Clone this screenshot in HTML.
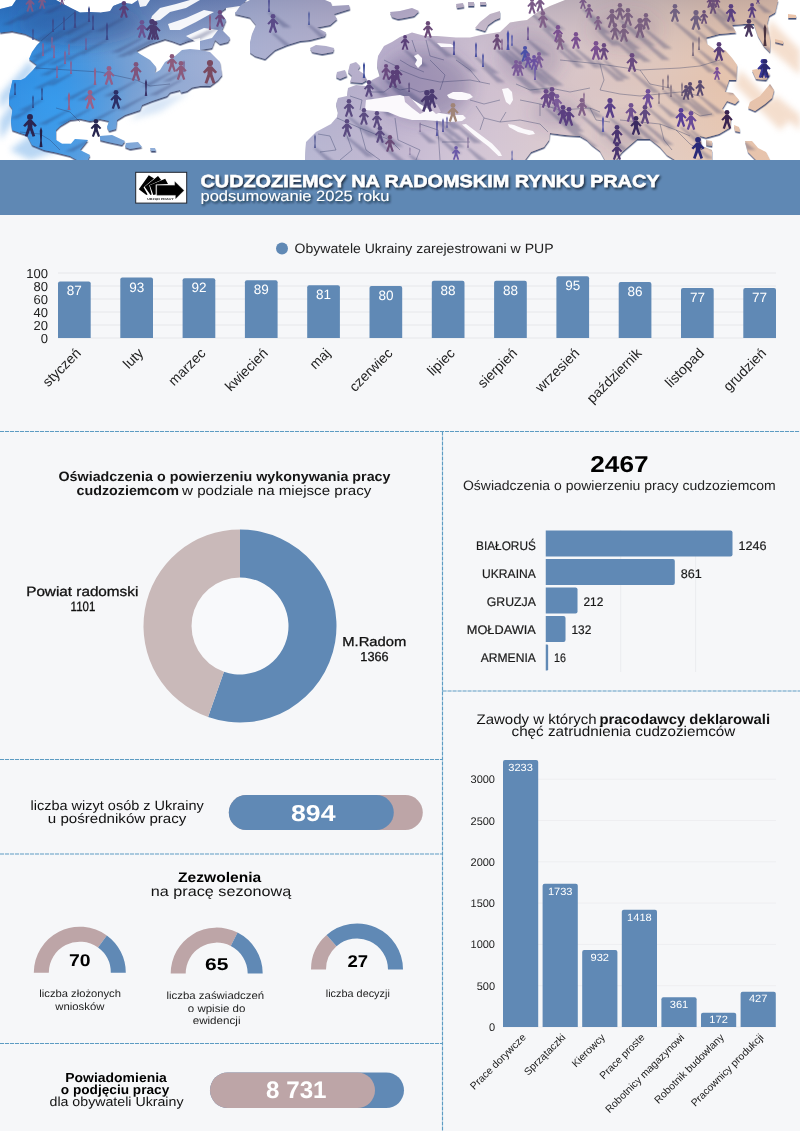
<!DOCTYPE html>
<html lang="pl"><head><meta charset="utf-8"><title>Cudzoziemcy na radomskim rynku pracy</title>
<style>
html,body{margin:0;padding:0;background:#f6f7f9;}
body{width:800px;height:1131px;overflow:hidden;font-family:"Liberation Sans",sans-serif;}
svg{display:block;font-family:"Liberation Sans",sans-serif;will-change:transform;}
text{text-rendering:geometricPrecision;}
</style></head><body>
<svg width="800" height="1131" viewBox="0 0 800 1131">
<defs>
<filter id="tsh" x="-5%" y="-30%" width="110%" height="180%"><feDropShadow dx="1.4" dy="1.8" stdDeviation="0.8" flood-color="#0e1626" flood-opacity="0.85"/></filter>
</defs>
<rect x="0" y="0" width="800" height="1131" fill="#f6f7f9"/>
<defs>
<linearGradient id="lg" gradientUnits="userSpaceOnUse" x1="0" y1="0" x2="800" y2="0">
<stop offset="0" stop-color="#2a88df"/><stop offset="0.075" stop-color="#3a8cda"/><stop offset="0.15" stop-color="#6a9bd4"/>
<stop offset="0.21" stop-color="#8fa9d3"/><stop offset="0.27" stop-color="#a0aed4"/><stop offset="0.33" stop-color="#abafd0"/>
<stop offset="0.42" stop-color="#b3aecb"/><stop offset="0.5" stop-color="#bdb0cc"/><stop offset="0.56" stop-color="#c9bbd0"/>
<stop offset="0.62" stop-color="#d0c0cf"/><stop offset="0.68" stop-color="#d6c4cb"/><stop offset="0.75" stop-color="#dac5c4"/>
<stop offset="0.82" stop-color="#dfc6bc"/><stop offset="0.9" stop-color="#e4c3ae"/><stop offset="1" stop-color="#eac4aa"/></linearGradient>
<radialGradient id="rg1" gradientUnits="userSpaceOnUse" cx="55" cy="105" r="75"><stop offset="0" stop-color="#34a0f4" stop-opacity="0.7"/><stop offset="1" stop-color="#34a0f4" stop-opacity="0"/></radialGradient>
<linearGradient id="tg" gradientUnits="userSpaceOnUse" x1="0" y1="0" x2="0" y2="55"><stop offset="0" stop-color="#2a4a90" stop-opacity="0.38"/><stop offset="1" stop-color="#2a4a90" stop-opacity="0"/></linearGradient>
<linearGradient id="vg" x1="0" y1="0" x2="0" y2="1"><stop offset="0" stop-color="#203060" stop-opacity="0.16"/><stop offset="0.5" stop-color="#ffffff" stop-opacity="0.0"/><stop offset="1" stop-color="#ffffff" stop-opacity="0.12"/></linearGradient>
<filter id="edge" x="-2%" y="-5%" width="104%" height="112%"><feDropShadow dx="0.3" dy="1.6" stdDeviation="0.25" flood-color="#28335e" flood-opacity="0.85"/></filter>
<filter id="bl3"><feGaussianBlur stdDeviation="3"/></filter>
<filter id="bl6" x="-30%" y="-30%" width="160%" height="160%"><feGaussianBlur stdDeviation="8"/></filter>
<filter id="bl1"><feGaussianBlur stdDeviation="1.2"/></filter>
<clipPath id="hc"><rect x="0" y="0" width="800" height="160"/></clipPath>
<symbol id="p" viewBox="0 0 12 19.4" overflow="visible"><circle cx="6" cy="2.5" r="2.5"/><path d="M4.4 5 H7.6 L11.8 9.6 L10.2 11 L8 8.8 V11.5 L10.4 18.6 L8.2 19.3 L6 13.4 L3.8 19.3 L1.6 18.6 L4 11.5 V8.8 L1.8 11 L0.2 9.6 Z"/></symbol>
<symbol id="s" viewBox="0 0 3 16" overflow="visible"><path d="M1.5 0 l1 3 -.4 8 .6 5 h-2.4 l.6 -5 -.4 -8z"/></symbol>
</defs>
<g clip-path="url(#hc)">
<rect x="0" y="0" width="800" height="160" fill="#ffffff"/>
<g filter="url(#bl3)" opacity="0.55">
<path d="M0 95 L30 60 L34 70 L0 110Z M0 120 L14 100 L20 112 L0 140Z M10 150 L40 128 L60 150 L30 160Z" fill="#7fb5ea"/>
<path d="M770 20 L800 50 L800 75 L765 45Z M740 70 L790 120 L780 130 L735 85Z M775 95 L800 115 L800 130 L770 105Z" fill="#ecc4a6"/>
<path d="M150 100 L190 92 L160 112 L130 120Z" fill="#b8d2f0"/>
</g>
<g filter="url(#edge)"><path d="M0 9 L12 6 L16 0 L56 0 L70 7.5 L73 9 L80 12.5 L90 12 L100 12.5 L110 11 L113 6 L122 2.5 L132 4 L138 0 L247 0 L240 6 L226 8 L220 12 L226 20 L222 30 L230 38 L228 42 L220 44 L215 40 L212 48 L200 50 L200 38 L188 41 L180 44 L172 41 L165 39 L150 44 L136 51 L140 54 L150 60 L156 67 L155 73 L160 70 L165 62 L175 56 L182 50 L190 49 L200 50 L210 52 L220 62 L222 75 L218 80 L210 86 L200 86 L192 87.5 L187 91 L181 92.5 L180 90 L170 92.5 L167 96 L152 101 L142 105 L140 110 L125 115 L117 120 L116 129 L109 131 L107 127 L109 121 L100 119 L90 121 L80 118.7 L70 120 L60 126 L56 130 L56 140 L62 143.7 L71 143.7 L75 139 L88 140 L80 150 L90 155 L88 160 L77 160 L70 156 L56 152.5 L44 150 L32 145 L27 135 L19 132.5 L12 130 L11 121 L12.5 109 L9 104 L9.5 94 L12.5 80 L21 80 L25 78 L33 70 L37 65 L29 59 L32 52 L37 45 L41 41 L36 38.7 L25 33.7 L12 31 L0 32.5Z M100 136 L112 135 L125 141 L122 145 L108 142 L100 140Z M126 143 L138 142 L142 147 L130 149 L125 147Z M150 148 l5 0 l1 3 l-5 0z M250 0 L325 0 L331 2.5 L332 6 L349 5 L350 9 L334 14 L337 19 L330 25 L317 27.5 L326 32.5 L325 36 L310 40 L300 41 L287 45 L275 50 L265 59 L255 56 L250 52.5 L250 42.5 L252 34 L256 25 L250 17.5 L235 14 L236 7.5Z M310 48 L316 45 L326 46 L334 48 L333 52 L322 54 L312 52Z M390 12 L400 11 L412 8 L419 11 L414 16 L404 18 L398 19 L392 17Z M456 4 l7 -1 l1 4 l-7 1z M468 2 l6 0 l0 4 l-6 0z M480 2 l6 0 l0 3 l-6 0z M500 11 L490 14 L480 22 L475 28 L485 31 L488 25 L495 20 L500 18Z M350 64 L356 62 L360 66 L358 70 L364 74 L367 80 L362 83 L350 82 L352 76 L348 72Z M337 72 L345 70 L347 76 L340 79 L336 77Z M305 160 L306 142 L316 132 L331 124 L337 117 L338 112 L336 104 L338 98 L347 96 L348 88 L356 85 L366 86 L372 80 L380 76 L377 66 L378 56 L384 46 L392 42 L400 37 L412 32.5 L425 36 L437 36 L456 37.5 L470 37.5 L481 35 L500 32 L510 22.5 L519 21 L527 20 L537 12.5 L550 6 L565 0 L778 0 L777 4 L775 12.5 L769 16 L767 24 L770 40 L770 52 L764 46 L758 36 L754 24 L744 24 L732 25 L736 32.5 L719 34 L706 37.5 L707 44 L715 50 L725 50 L732 58 L737 65 L736 80 L729 80 L725 92 L733 93 L739 100 L735 104 L727 101 L722 109 L731 117 L730 127.5 L719 134 L706 137.5 L700 136 L702 146 L712 150 L712 160 L675 160 L667 155 L660 147 L650 139 L637 139 L622 152 L616 160 L605 160 L600 151 L592 145 L587 140 L580 136 L565 135 L550 133 L549 140 L544 147 L531 152 L525 160Z" fill="url(#lg)"/></g>
<path d="M0 9 L12 6 L16 0 L56 0 L70 7.5 L73 9 L80 12.5 L90 12 L100 12.5 L110 11 L113 6 L122 2.5 L132 4 L138 0 L247 0 L240 6 L226 8 L220 12 L226 20 L222 30 L230 38 L228 42 L220 44 L215 40 L212 48 L200 50 L200 38 L188 41 L180 44 L172 41 L165 39 L150 44 L136 51 L140 54 L150 60 L156 67 L155 73 L160 70 L165 62 L175 56 L182 50 L190 49 L200 50 L210 52 L220 62 L222 75 L218 80 L210 86 L200 86 L192 87.5 L187 91 L181 92.5 L180 90 L170 92.5 L167 96 L152 101 L142 105 L140 110 L125 115 L117 120 L116 129 L109 131 L107 127 L109 121 L100 119 L90 121 L80 118.7 L70 120 L60 126 L56 130 L56 140 L62 143.7 L71 143.7 L75 139 L88 140 L80 150 L90 155 L88 160 L77 160 L70 156 L56 152.5 L44 150 L32 145 L27 135 L19 132.5 L12 130 L11 121 L12.5 109 L9 104 L9.5 94 L12.5 80 L21 80 L25 78 L33 70 L37 65 L29 59 L32 52 L37 45 L41 41 L36 38.7 L25 33.7 L12 31 L0 32.5Z M100 136 L112 135 L125 141 L122 145 L108 142 L100 140Z M126 143 L138 142 L142 147 L130 149 L125 147Z M150 148 l5 0 l1 3 l-5 0z M250 0 L325 0 L331 2.5 L332 6 L349 5 L350 9 L334 14 L337 19 L330 25 L317 27.5 L326 32.5 L325 36 L310 40 L300 41 L287 45 L275 50 L265 59 L255 56 L250 52.5 L250 42.5 L252 34 L256 25 L250 17.5 L235 14 L236 7.5Z M310 48 L316 45 L326 46 L334 48 L333 52 L322 54 L312 52Z M390 12 L400 11 L412 8 L419 11 L414 16 L404 18 L398 19 L392 17Z M456 4 l7 -1 l1 4 l-7 1z M468 2 l6 0 l0 4 l-6 0z M480 2 l6 0 l0 3 l-6 0z M500 11 L490 14 L480 22 L475 28 L485 31 L488 25 L495 20 L500 18Z M350 64 L356 62 L360 66 L358 70 L364 74 L367 80 L362 83 L350 82 L352 76 L348 72Z M337 72 L345 70 L347 76 L340 79 L336 77Z M305 160 L306 142 L316 132 L331 124 L337 117 L338 112 L336 104 L338 98 L347 96 L348 88 L356 85 L366 86 L372 80 L380 76 L377 66 L378 56 L384 46 L392 42 L400 37 L412 32.5 L425 36 L437 36 L456 37.5 L470 37.5 L481 35 L500 32 L510 22.5 L519 21 L527 20 L537 12.5 L550 6 L565 0 L778 0 L777 4 L775 12.5 L769 16 L767 24 L770 40 L770 52 L764 46 L758 36 L754 24 L744 24 L732 25 L736 32.5 L719 34 L706 37.5 L707 44 L715 50 L725 50 L732 58 L737 65 L736 80 L729 80 L725 92 L733 93 L739 100 L735 104 L727 101 L722 109 L731 117 L730 127.5 L719 134 L706 137.5 L700 136 L702 146 L712 150 L712 160 L675 160 L667 155 L660 147 L650 139 L637 139 L622 152 L616 160 L605 160 L600 151 L592 145 L587 140 L580 136 L565 135 L550 133 L549 140 L544 147 L531 152 L525 160Z" fill="url(#vg)"/>
<path d="M0 9 L12 6 L16 0 L56 0 L70 7.5 L73 9 L80 12.5 L90 12 L100 12.5 L110 11 L113 6 L122 2.5 L132 4 L138 0 L247 0 L240 6 L226 8 L220 12 L226 20 L222 30 L230 38 L228 42 L220 44 L215 40 L212 48 L200 50 L200 38 L188 41 L180 44 L172 41 L165 39 L150 44 L136 51 L140 54 L150 60 L156 67 L155 73 L160 70 L165 62 L175 56 L182 50 L190 49 L200 50 L210 52 L220 62 L222 75 L218 80 L210 86 L200 86 L192 87.5 L187 91 L181 92.5 L180 90 L170 92.5 L167 96 L152 101 L142 105 L140 110 L125 115 L117 120 L116 129 L109 131 L107 127 L109 121 L100 119 L90 121 L80 118.7 L70 120 L60 126 L56 130 L56 140 L62 143.7 L71 143.7 L75 139 L88 140 L80 150 L90 155 L88 160 L77 160 L70 156 L56 152.5 L44 150 L32 145 L27 135 L19 132.5 L12 130 L11 121 L12.5 109 L9 104 L9.5 94 L12.5 80 L21 80 L25 78 L33 70 L37 65 L29 59 L32 52 L37 45 L41 41 L36 38.7 L25 33.7 L12 31 L0 32.5Z" fill="url(#rg1)"/>
<path d="M0 9 L12 6 L16 0 L56 0 L70 7.5 L73 9 L80 12.5 L90 12 L100 12.5 L110 11 L113 6 L122 2.5 L132 4 L138 0 L247 0 L240 6 L226 8 L220 12 L226 20 L222 30 L230 38 L228 42 L220 44 L215 40 L212 48 L200 50 L200 38 L188 41 L180 44 L172 41 L165 39 L150 44 L136 51 L140 54 L150 60 L156 67 L155 73 L160 70 L165 62 L175 56 L182 50 L190 49 L200 50 L210 52 L220 62 L222 75 L218 80 L210 86 L200 86 L192 87.5 L187 91 L181 92.5 L180 90 L170 92.5 L167 96 L152 101 L142 105 L140 110 L125 115 L117 120 L116 129 L109 131 L107 127 L109 121 L100 119 L90 121 L80 118.7 L70 120 L60 126 L56 130 L56 140 L62 143.7 L71 143.7 L75 139 L88 140 L80 150 L90 155 L88 160 L77 160 L70 156 L56 152.5 L44 150 L32 145 L27 135 L19 132.5 L12 130 L11 121 L12.5 109 L9 104 L9.5 94 L12.5 80 L21 80 L25 78 L33 70 L37 65 L29 59 L32 52 L37 45 L41 41 L36 38.7 L25 33.7 L12 31 L0 32.5Z" fill="url(#tg)"/>
<path d="M100 12.5 L108 2 L112 0 L118 0 L113 6 L110 11Z M152 16 L160 8 L176 4 L190 0 L200 0 L186 8 L170 12 L160 20 L150 22Z M168 24 L186 18 L204 10 L214 12 L196 22 L180 30 L170 30Z M186 36 L204 28 L218 30 L212 38 L196 42Z M226 8 L240 6 L236 12 L226 14Z M138 0 L150 0 L146 6 L140 7Z" fill="#fff" opacity="0.92"/>
<g filter="url(#edge)"><path d="M770 84 L774 90 L772 98 L765 104 L755 111 L748 108 L750 102 L760 96Z M752 70 L762 68 L770 74 L766 80 L756 79Z M734 125 l5 2 l1 5 l-5 -1z M745 141 L752 141 L758 148 L766 152 L770 160 L756 160 L748 152Z M706 140 l6 1 l0 5 l-6 -1z M788 14 l8 1 l0 3 l-8 0z M775 39 l8 2 l0 3 l-8 -2z" fill="url(#lg)"/></g>
<path d="M404 96 L409 96 L418 106 L424 112 L420 114 L412 108 L405 102Z M430 104 L437 104 L441 112 L436 114 L432 110Z" fill="url(#lg)"/>
<path d="M41 41 L75 12 M36 68 L100 72 L136 80 L150 86 L170 84 M56 108 L70 112 L80 122 M20 132 L40 134 L50 140 L60 150 M345 130 L352 150 L340 160 M337 118 L360 128 L390 140 L400 150 M318 134 L330 136 L336 150 L320 152 M360 128 L366 150 L380 160 M395 118 L398 140 L420 150 L416 160 M420 124 L438 130 L440 160 M470 142 L442 142 M350 96 L362 100 L360 110 M366 86 L372 92 L384 92 L392 86 M392 86 L400 90 L410 88 L420 92 L430 90 M400 70 L420 78 L440 82 L470 80 L490 84 M430 60 L445 75 L440 90 M400 60 L410 66 L424 72 M384 60 L396 66 L400 78 M412 40 L416 52 M426 40 L430 56 L444 60 M456 60 L470 70 L480 82 M470 100 L484 104 L500 100 M476 106 L484 118 L500 122 L506 112 M484 118 L480 130 M500 122 L520 120 L540 124 L548 132 M520 100 L540 104 L560 110 L590 108 L600 112 M540 104 L540 116 M516 84 L530 90 L550 88 L570 92 L590 88 M560 110 L566 124 M590 108 L596 120 L610 122 M600 90 L620 94 L640 96 L660 94 L680 92 L700 96 M620 120 L640 122 L660 124 L676 130 L690 136 M560 60 L580 62 L600 64 L640 70 L680 68 L700 66 L720 60 M640 70 L650 84 L670 88 M660 124 L664 140 L672 150 M676 130 L690 144 L700 150 M690 110 L700 116 L712 114 M600 64 L604 80 L600 90" fill="none" stroke="#2b3560" stroke-width="0.6" opacity="0.6" stroke-linejoin="round"/>
<clipPath id="lc"><path d="M0 9 L12 6 L16 0 L56 0 L70 7.5 L73 9 L80 12.5 L90 12 L100 12.5 L110 11 L113 6 L122 2.5 L132 4 L138 0 L247 0 L240 6 L226 8 L220 12 L226 20 L222 30 L230 38 L228 42 L220 44 L215 40 L212 48 L200 50 L200 38 L188 41 L180 44 L172 41 L165 39 L150 44 L136 51 L140 54 L150 60 L156 67 L155 73 L160 70 L165 62 L175 56 L182 50 L190 49 L200 50 L210 52 L220 62 L222 75 L218 80 L210 86 L200 86 L192 87.5 L187 91 L181 92.5 L180 90 L170 92.5 L167 96 L152 101 L142 105 L140 110 L125 115 L117 120 L116 129 L109 131 L107 127 L109 121 L100 119 L90 121 L80 118.7 L70 120 L60 126 L56 130 L56 140 L62 143.7 L71 143.7 L75 139 L88 140 L80 150 L90 155 L88 160 L77 160 L70 156 L56 152.5 L44 150 L32 145 L27 135 L19 132.5 L12 130 L11 121 L12.5 109 L9 104 L9.5 94 L12.5 80 L21 80 L25 78 L33 70 L37 65 L29 59 L32 52 L37 45 L41 41 L36 38.7 L25 33.7 L12 31 L0 32.5Z M100 136 L112 135 L125 141 L122 145 L108 142 L100 140Z M126 143 L138 142 L142 147 L130 149 L125 147Z M150 148 l5 0 l1 3 l-5 0z M250 0 L325 0 L331 2.5 L332 6 L349 5 L350 9 L334 14 L337 19 L330 25 L317 27.5 L326 32.5 L325 36 L310 40 L300 41 L287 45 L275 50 L265 59 L255 56 L250 52.5 L250 42.5 L252 34 L256 25 L250 17.5 L235 14 L236 7.5Z M310 48 L316 45 L326 46 L334 48 L333 52 L322 54 L312 52Z M390 12 L400 11 L412 8 L419 11 L414 16 L404 18 L398 19 L392 17Z M456 4 l7 -1 l1 4 l-7 1z M468 2 l6 0 l0 4 l-6 0z M480 2 l6 0 l0 3 l-6 0z M500 11 L490 14 L480 22 L475 28 L485 31 L488 25 L495 20 L500 18Z M350 64 L356 62 L360 66 L358 70 L364 74 L367 80 L362 83 L350 82 L352 76 L348 72Z M337 72 L345 70 L347 76 L340 79 L336 77Z M305 160 L306 142 L316 132 L331 124 L337 117 L338 112 L336 104 L338 98 L347 96 L348 88 L356 85 L366 86 L372 80 L380 76 L377 66 L378 56 L384 46 L392 42 L400 37 L412 32.5 L425 36 L437 36 L456 37.5 L470 37.5 L481 35 L500 32 L510 22.5 L519 21 L527 20 L537 12.5 L550 6 L565 0 L778 0 L777 4 L775 12.5 L769 16 L767 24 L770 40 L770 52 L764 46 L758 36 L754 24 L744 24 L732 25 L736 32.5 L719 34 L706 37.5 L707 44 L715 50 L725 50 L732 58 L737 65 L736 80 L729 80 L725 92 L733 93 L739 100 L735 104 L727 101 L722 109 L731 117 L730 127.5 L719 134 L706 137.5 L700 136 L702 146 L712 150 L712 160 L675 160 L667 155 L660 147 L650 139 L637 139 L622 152 L616 160 L605 160 L600 151 L592 145 L587 140 L580 136 L565 135 L550 133 L549 140 L544 147 L531 152 L525 160Z M770 84 L774 90 L772 98 L765 104 L755 111 L748 108 L750 102 L760 96Z M752 70 L762 68 L770 74 L766 80 L756 79Z M734 125 l5 2 l1 5 l-5 -1z M745 141 L752 141 L758 148 L766 152 L770 160 L756 160 L748 152Z M706 140 l6 1 l0 5 l-6 -1z M788 14 l8 1 l0 3 l-8 0z M775 39 l8 2 l0 3 l-8 -2z"/></clipPath>
<g clip-path="url(#lc)"><g filter="url(#bl6)">
<ellipse cx="425" cy="85" rx="46" ry="36" fill="#4a3f78" opacity="0.30"/>
<ellipse cx="530" cy="58" rx="32" ry="26" fill="#4a3f78" opacity="0.20"/>
<ellipse cx="556" cy="113" rx="24" ry="15" fill="#4a3f78" opacity="0.18"/>
<ellipse cx="80" cy="24" rx="62" ry="22" fill="#1f3f80" opacity="0.26"/>
<ellipse cx="626" cy="135" rx="26" ry="16" fill="#4a3f78" opacity="0.15"/>
<ellipse cx="625" cy="30" rx="35" ry="20" fill="#5a4a70" opacity="0.14"/>
</g></g>
<g clip-path="url(#lc)"><g filter="url(#bl1)" opacity="0.30">
<path d="M28.5 12 L31.5 12 L10.0 24.8 L2.0 24.8Z" fill="#303868"/>
<path d="M40.5 9 L43.5 9 L25.0 20.2 L17.0 20.2Z" fill="#303868"/>
<path d="M60.5 5 L63.5 5 L51.0 13.0 L43.0 13.0Z" fill="#303868"/>
<path d="M122.5 18 L125.5 18 L102.5 31.6 L94.5 31.6Z" fill="#303868"/>
<path d="M140.5 38 L143.5 38 L119.0 52.4 L111.0 52.4Z" fill="#303868"/>
<path d="M150.5 40 L153.5 40 L124.5 56.8 L116.5 56.8Z" fill="#303868"/>
<path d="M153.5 40 L156.5 40 L130.5 55.2 L122.5 55.2Z" fill="#303868"/>
<path d="M170.5 72 L173.5 72 L149.0 86.4 L141.0 86.4Z" fill="#303868"/>
<path d="M179.5 80 L182.5 80 L156.5 95.2 L148.5 95.2Z" fill="#303868"/>
<path d="M134.5 81 L137.5 81 L111.5 96.2 L103.5 96.2Z" fill="#303868"/>
<path d="M107.5 85 L110.5 85 L84.5 100.2 L76.5 100.2Z" fill="#303868"/>
<path d="M93.5 85 L96.5 85 L72.0 99.4 L64.0 99.4Z" fill="#303868"/>
<path d="M144.5 96 L147.5 96 L124.5 109.6 L116.5 109.6Z" fill="#303868"/>
<path d="M114.5 109 L117.5 109 L91.5 124.2 L83.5 124.2Z" fill="#303868"/>
<path d="M88.5 109 L91.5 109 L65.5 124.2 L57.5 124.2Z" fill="#303868"/>
<path d="M67.5 110 L70.5 110 L46.0 124.4 L38.0 124.4Z" fill="#303868"/>
<path d="M94.5 137 L97.5 137 L73.0 151.4 L65.0 151.4Z" fill="#303868"/>
<path d="M28.5 137 L31.5 137 L-0.5 155.4 L-8.5 155.4Z" fill="#303868"/>
<path d="M39.5 147 L42.5 147 L15.0 163.0 L7.0 163.0Z" fill="#303868"/>
<path d="M51.5 32 L54.5 32 L36.0 43.2 L28.0 43.2Z" fill="#303868"/>
<path d="M62.5 30 L65.5 30 L47.0 41.2 L39.0 41.2Z" fill="#303868"/>
<path d="M73.5 28 L76.5 28 L52.0 42.4 L44.0 42.4Z" fill="#303868"/>
<path d="M87.5 22 L90.5 22 L69.0 34.8 L61.0 34.8Z" fill="#303868"/>
<path d="M91.5 30 L94.5 30 L73.0 42.8 L65.0 42.8Z" fill="#303868"/>
<path d="M31.5 40 L34.5 40 L19.0 49.6 L11.0 49.6Z" fill="#303868"/>
<path d="M41.5 56 L44.5 56 L26.0 67.2 L18.0 67.2Z" fill="#303868"/>
<path d="M52.5 58 L55.5 58 L37.0 69.2 L29.0 69.2Z" fill="#303868"/>
<path d="M63.5 64 L66.5 64 L48.0 75.2 L40.0 75.2Z" fill="#303868"/>
<path d="M69.5 74 L72.5 74 L54.0 85.2 L46.0 85.2Z" fill="#303868"/>
<path d="M55.5 78 L58.5 78 L41.5 88.4 L33.5 88.4Z" fill="#303868"/>
<path d="M84.5 50 L87.5 50 L70.5 60.4 L62.5 60.4Z" fill="#303868"/>
<path d="M105.5 40 L108.5 40 L84.0 54.4 L76.0 54.4Z" fill="#303868"/>
<path d="M13.5 95 L16.5 95 L-0.5 105.4 L-8.5 105.4Z" fill="#303868"/>
<path d="M31.5 108 L34.5 108 L17.5 118.4 L9.5 118.4Z" fill="#303868"/>
<path d="M40.5 100 L43.5 100 L26.5 110.4 L18.5 110.4Z" fill="#303868"/>
<path d="M67.5 55 L70.5 55 L55.0 64.6 L47.0 64.6Z" fill="#303868"/>
<path d="M50.5 48 L53.5 48 L38.0 57.6 L30.0 57.6Z" fill="#303868"/>
<path d="M182.5 72 L185.5 72 L170.0 81.6 L162.0 81.6Z" fill="#303868"/>
<path d="M208.5 30 L211.5 30 L190.0 42.8 L182.0 42.8Z" fill="#303868"/>
<path d="M218.5 27 L221.5 27 L198.5 40.6 L190.5 40.6Z" fill="#303868"/>
<path d="M208.5 84 L211.5 84 L178.0 103.2 L170.0 103.2Z" fill="#303868"/>
<path d="M271.5 33 L274.5 33 L301.7 53.9 L293.7 53.9Z" fill="#303868"/>
<path d="M267.5 12 L270.5 12 L291.2 27.4 L283.2 27.4Z" fill="#303868"/>
<path d="M307.5 25 L310.5 25 L331.2 40.4 L323.2 40.4Z" fill="#303868"/>
<path d="M362.5 78 L365.5 78 L388.8 95.6 L380.8 95.6Z" fill="#303868"/>
<path d="M367.5 97 L370.5 97 L395.1 115.7 L387.1 115.7Z" fill="#303868"/>
<path d="M347.5 117 L350.5 117 L376.4 136.8 L368.4 136.8Z" fill="#303868"/>
<path d="M362.5 125 L365.5 125 L390.1 143.7 L382.1 143.7Z" fill="#303868"/>
<path d="M375.5 128 L378.5 128 L403.1 146.7 L395.1 146.7Z" fill="#303868"/>
<path d="M345.5 137 L348.5 137 L374.4 156.8 L366.4 156.8Z" fill="#303868"/>
<path d="M378.5 143 L381.5 143 L406.1 161.7 L398.1 161.7Z" fill="#303868"/>
<path d="M388.5 152 L391.5 152 L416.1 170.7 L408.1 170.7Z" fill="#303868"/>
<path d="M391.5 88 L394.5 88 L420.4 107.8 L412.4 107.8Z" fill="#303868"/>
<path d="M395.5 84 L398.5 84 L425.7 104.9 L417.7 104.9Z" fill="#303868"/>
<path d="M384.5 80 L387.5 80 L410.8 97.6 L402.8 97.6Z" fill="#303868"/>
<path d="M313.5 148 L316.5 148 L337.2 163.4 L329.2 163.4Z" fill="#303868"/>
<path d="M403.5 50 L406.5 50 L428.5 66.5 L420.5 66.5Z" fill="#303868"/>
<path d="M426.5 38 L429.5 38 L454.1 56.7 L446.1 56.7Z" fill="#303868"/>
<path d="M452.5 55 L455.5 55 L477.5 71.5 L469.5 71.5Z" fill="#303868"/>
<path d="M474.5 57 L477.5 57 L499.5 73.5 L491.5 73.5Z" fill="#303868"/>
<path d="M481.5 67 L484.5 67 L505.2 82.4 L497.2 82.4Z" fill="#303868"/>
<path d="M495.5 50 L498.5 50 L521.8 67.6 L513.8 67.6Z" fill="#303868"/>
<path d="M407.5 92 L410.5 92 L426.0 103.0 L418.0 103.0Z" fill="#303868"/>
<path d="M425.5 112 L428.5 112 L459.6 136.2 L451.6 136.2Z" fill="#303868"/>
<path d="M430.5 108 L433.5 108 L460.7 128.9 L452.7 128.9Z" fill="#303868"/>
<path d="M451.5 122 L454.5 122 L481.7 142.9 L473.7 142.9Z" fill="#303868"/>
<path d="M435.5 136 L438.5 136 L461.8 153.6 L453.8 153.6Z" fill="#303868"/>
<path d="M441.5 132 L444.5 132 L465.2 147.4 L457.2 147.4Z" fill="#303868"/>
<path d="M445.5 128 L448.5 128 L466.6 141.2 L458.6 141.2Z" fill="#303868"/>
<path d="M454.5 160 L457.5 160 L478.2 175.4 L470.2 175.4Z" fill="#303868"/>
<path d="M418.5 132 L421.5 132 L437.0 143.0 L429.0 143.0Z" fill="#303868"/>
<path d="M466.5 148 L469.5 148 L487.6 161.2 L479.6 161.2Z" fill="#303868"/>
<path d="M408.5 155 L411.5 155 L424.4 163.8 L416.4 163.8Z" fill="#303868"/>
<path d="M510.5 160 L513.5 160 L529.0 171.0 L521.0 171.0Z" fill="#303868"/>
<path d="M530.5 14 L533.5 14 L556.8 31.6 L548.8 31.6Z" fill="#303868"/>
<path d="M538.5 12 L541.5 12 L564.8 29.6 L556.8 29.6Z" fill="#303868"/>
<path d="M541.5 28 L544.5 28 L569.1 46.7 L561.1 46.7Z" fill="#303868"/>
<path d="M506.5 50 L509.5 50 L538.0 72.0 L530.0 72.0Z" fill="#303868"/>
<path d="M510.5 46 L513.5 46 L531.6 59.2 L523.6 59.2Z" fill="#303868"/>
<path d="M526.5 40 L529.5 40 L550.2 55.4 L542.2 55.4Z" fill="#303868"/>
<path d="M500.5 50 L503.5 50 L521.6 63.2 L513.6 63.2Z" fill="#303868"/>
<path d="M556.5 42 L559.5 42 L584.1 60.7 L576.1 60.7Z" fill="#303868"/>
<path d="M558.5 50 L561.5 50 L584.8 67.6 L576.8 67.6Z" fill="#303868"/>
<path d="M574.5 49 L577.5 49 L602.1 67.7 L594.1 67.7Z" fill="#303868"/>
<path d="M594.5 60 L597.5 60 L624.7 80.9 L616.7 80.9Z" fill="#303868"/>
<path d="M581.5 9 L584.5 9 L603.9 23.3 L595.9 23.3Z" fill="#303868"/>
<path d="M587.5 18 L590.5 18 L611.2 33.4 L603.2 33.4Z" fill="#303868"/>
<path d="M596.5 30 L599.5 30 L620.2 45.4 L612.2 45.4Z" fill="#303868"/>
<path d="M523.5 62 L526.5 62 L549.8 79.6 L541.8 79.6Z" fill="#303868"/>
<path d="M526.5 68 L529.5 68 L551.5 84.5 L543.5 84.5Z" fill="#303868"/>
<path d="M532.5 70 L535.5 70 L557.5 86.5 L549.5 86.5Z" fill="#303868"/>
<path d="M537.5 68 L540.5 68 L563.8 85.6 L555.8 85.6Z" fill="#303868"/>
<path d="M514.5 76 L517.5 76 L540.8 93.6 L532.8 93.6Z" fill="#303868"/>
<path d="M518.5 76 L521.5 76 L543.5 92.5 L535.5 92.5Z" fill="#303868"/>
<path d="M533.5 80 L536.5 80 L557.2 95.4 L549.2 95.4Z" fill="#303868"/>
<path d="M544.5 108 L547.5 108 L574.7 128.9 L566.7 128.9Z" fill="#303868"/>
<path d="M550.5 106 L553.5 106 L580.7 126.9 L572.7 126.9Z" fill="#303868"/>
<path d="M555.5 112 L558.5 112 L584.4 131.8 L576.4 131.8Z" fill="#303868"/>
<path d="M561.5 124 L564.5 124 L591.7 144.9 L583.7 144.9Z" fill="#303868"/>
<path d="M567.5 126 L570.5 126 L597.7 146.9 L589.7 146.9Z" fill="#303868"/>
<path d="M580.5 116 L583.5 116 L609.4 135.8 L601.4 135.8Z" fill="#303868"/>
<path d="M582.5 104 L585.5 104 L603.6 117.2 L595.6 117.2Z" fill="#303868"/>
<path d="M610.5 28 L613.5 28 L640.7 48.9 L632.7 48.9Z" fill="#303868"/>
<path d="M618.5 20 L621.5 20 L646.1 38.7 L638.1 38.7Z" fill="#303868"/>
<path d="M626.5 26 L629.5 26 L655.4 45.8 L647.4 45.8Z" fill="#303868"/>
<path d="M613.5 40 L616.5 40 L641.1 58.7 L633.1 58.7Z" fill="#303868"/>
<path d="M622.5 42 L625.5 42 L651.4 61.8 L643.4 61.8Z" fill="#303868"/>
<path d="M638.5 38 L641.5 38 L670.0 60.0 L662.0 60.0Z" fill="#303868"/>
<path d="M644.5 30 L647.5 30 L672.1 48.7 L664.1 48.7Z" fill="#303868"/>
<path d="M602.5 60 L605.5 60 L630.1 78.7 L622.1 78.7Z" fill="#303868"/>
<path d="M630.5 72 L633.5 72 L660.7 92.9 L652.7 92.9Z" fill="#303868"/>
<path d="M673.5 22 L676.5 22 L702.4 41.8 L694.4 41.8Z" fill="#303868"/>
<path d="M694.5 30 L697.5 30 L726.0 52.0 L718.0 52.0Z" fill="#303868"/>
<path d="M691.5 56 L694.5 56 L716.5 72.5 L708.5 72.5Z" fill="#303868"/>
<path d="M697.5 50 L700.5 50 L721.2 65.4 L713.2 65.4Z" fill="#303868"/>
<path d="M661.5 90 L664.5 90 L682.6 103.2 L674.6 103.2Z" fill="#303868"/>
<path d="M669.5 97 L672.5 97 L691.9 111.3 L683.9 111.3Z" fill="#303868"/>
<path d="M680.5 96 L683.5 96 L704.2 111.4 L696.2 111.4Z" fill="#303868"/>
<path d="M708.5 8 L711.5 8 L729.6 21.2 L721.6 21.2Z" fill="#303868"/>
<path d="M715.5 8 L718.5 8 L736.6 21.2 L728.6 21.2Z" fill="#303868"/>
<path d="M702.5 24 L705.5 24 L726.2 39.4 L718.2 39.4Z" fill="#303868"/>
<path d="M711.5 14 L714.5 14 L736.5 30.5 L728.5 30.5Z" fill="#303868"/>
<path d="M729.5 22 L732.5 22 L758.4 41.8 L750.4 41.8Z" fill="#303868"/>
<path d="M750.5 18 L753.5 18 L775.5 34.5 L767.5 34.5Z" fill="#303868"/>
<path d="M756.5 4 L759.5 4 L772.4 12.8 L764.4 12.8Z" fill="#303868"/>
<path d="M747.5 37 L750.5 37 L776.4 56.8 L768.4 56.8Z" fill="#303868"/>
<path d="M763.5 46 L766.5 46 L797.6 70.2 L789.6 70.2Z" fill="#303868"/>
<path d="M761.5 78 L764.5 78 L791.7 98.9 L783.7 98.9Z" fill="#303868"/>
<path d="M763.5 78 L766.5 78 L793.7 98.9 L785.7 98.9Z" fill="#303868"/>
<path d="M717.5 61 L720.5 61 L747.7 81.9 L739.7 81.9Z" fill="#303868"/>
<path d="M715.5 80 L718.5 80 L737.9 94.3 L729.9 94.3Z" fill="#303868"/>
<path d="M608.5 118 L611.5 118 L640.0 140.0 L632.0 140.0Z" fill="#303868"/>
<path d="M629.5 122 L632.5 122 L659.7 142.9 L651.7 142.9Z" fill="#303868"/>
<path d="M643.5 124 L646.5 124 L673.7 144.9 L665.7 144.9Z" fill="#303868"/>
<path d="M646.5 108 L649.5 108 L676.7 128.9 L668.7 128.9Z" fill="#303868"/>
<path d="M634.5 135 L637.5 135 L664.7 155.9 L656.7 155.9Z" fill="#303868"/>
<path d="M601.5 132 L604.5 132 L627.8 149.6 L619.8 149.6Z" fill="#303868"/>
<path d="M615.5 144 L618.5 144 L645.7 164.9 L637.7 164.9Z" fill="#303868"/>
<path d="M615.5 160 L618.5 160 L644.4 179.8 L636.4 179.8Z" fill="#303868"/>
<path d="M679.5 127 L682.5 127 L709.7 147.9 L701.7 147.9Z" fill="#303868"/>
<path d="M689.5 130 L692.5 130 L719.7 150.9 L711.7 150.9Z" fill="#303868"/>
<path d="M696.5 159 L699.5 159 L730.6 183.2 L722.6 183.2Z" fill="#303868"/>
<path d="M725.5 129 L728.5 129 L755.7 149.9 L747.7 149.9Z" fill="#303868"/>
<path d="M698.5 150 L701.5 150 L714.4 158.8 L706.4 158.8Z" fill="#303868"/>
<path d="M666.5 88 L669.5 88 L690.2 103.4 L682.2 103.4Z" fill="#303868"/>
<path d="M657.5 104 L660.5 104 L678.6 117.2 L670.6 117.2Z" fill="#303868"/>
<path d="M688.5 98 L691.5 98 L714.8 115.6 L706.8 115.6Z" fill="#303868"/>
<path d="M684.5 100 L687.5 100 L709.5 116.5 L701.5 116.5Z" fill="#303868"/>
<path d="M698.5 96 L701.5 96 L724.8 113.6 L716.8 113.6Z" fill="#303868"/>
</g></g>
<path d="M400 95 L410 98 L420 104 L430 110 L440 113 L452 115 L463 115 L466 118 L462 121 L450 122 L437 121 L425 120 L412 120 L400 117 L388 112 L375 111 L365 110 L366 100 L380 98 L392 96Z M447 95 L453 92 L462 92 L470 94 L473 97 L467 100 L457 100 L449 98Z M502 89 L508 88 L512 92 L513 100 L510 105 L506 102 L504 96Z M462 124.5 L466 124 L480 134.5 L492 143.5 L500 152 L502 156 L498.5 156 L488.5 146.5 L475 136Z M508 124 L514 125 L524 129 L533 131 L535 134 L529 135 L518 132 L509 127Z M414 56 L418 54 L422 58 L422 64 L418 68 L415 64 L417 60Z M437 43 l14 1 l4 3 l-14 0z" fill="#fbf9fc"/>
<path d="M404 96 L409 96 L418 106 L424 112 L420 114 L412 108 L405 102Z M430 104 L437 104 L441 112 L436 114 L432 110Z" fill="url(#lg)"/>
<use href="#p" x="755.5" y="-4.0" width="4.9" height="8" fill="#5a4080"/>
<use href="#p" x="58.9" y="-5.0" width="6.2" height="10" fill="#7a5a88"/>
<use href="#p" x="706.3" y="-4.0" width="7.4" height="12" fill="#6a4a78"/>
<use href="#p" x="713.3" y="-4.0" width="7.4" height="12" fill="#6a4a78"/>
<use href="#p" x="37.7" y="-5.0" width="8.7" height="14" fill="#7a5a88"/>
<use href="#p" x="579.0" y="-4.0" width="8.0" height="13" fill="#7a5a88"/>
<use href="#p" x="25.1" y="-4.0" width="9.9" height="16" fill="#7a5a88"/>
<use href="#s" x="267.7" y="-2.0" width="2.6" height="14" fill="#4a4a90"/>
<use href="#p" x="535.1" y="-4.0" width="9.9" height="16" fill="#7a5a88"/>
<use href="#p" x="527.1" y="-2.0" width="9.9" height="16" fill="#7a5a88"/>
<use href="#p" x="708.4" y="-1.0" width="9.3" height="15" fill="#6a5078"/>
<use href="#p" x="118.7" y="1.0" width="10.5" height="17" fill="#5a3f78"/>
<use href="#p" x="584.7" y="4.0" width="8.7" height="14" fill="#7a5a88"/>
<use href="#p" x="747.4" y="3.0" width="9.3" height="15" fill="#5a4080"/>
<use href="#p" x="614.7" y="3.0" width="10.5" height="17" fill="#7a6080"/>
<use href="#s" x="87.5" y="6.0" width="3.0" height="16" fill="#3c4a8a"/>
<use href="#p" x="669.4" y="4.0" width="11.1" height="18" fill="#706080"/>
<use href="#p" x="725.4" y="4.0" width="11.1" height="18" fill="#5a4080"/>
<use href="#p" x="699.7" y="10.0" width="8.7" height="14" fill="#6a5078"/>
<use href="#s" x="307.7" y="11.0" width="2.6" height="14" fill="#5560a0"/>
<use href="#p" x="622.4" y="8.0" width="11.1" height="18" fill="#7a6080"/>
<use href="#p" x="214.7" y="10.0" width="10.5" height="17" fill="#6a4a80"/>
<use href="#s" x="73.3" y="10.0" width="3.4" height="18" fill="#3c4a8a"/>
<use href="#p" x="537.7" y="11.0" width="10.5" height="17" fill="#806088"/>
<use href="#p" x="606.1" y="9.0" width="11.8" height="19" fill="#7a6080"/>
<use href="#s" x="62.7" y="16.0" width="2.6" height="14" fill="#3c4a8a"/>
<use href="#s" x="91.5" y="14.0" width="3.0" height="16" fill="#3c4a8a"/>
<use href="#s" x="208.5" y="14.0" width="3.0" height="16" fill="#8a5a80"/>
<use href="#p" x="593.7" y="16.0" width="8.7" height="14" fill="#806088"/>
<use href="#p" x="640.7" y="13.0" width="10.5" height="17" fill="#7a6080"/>
<use href="#p" x="689.8" y="10.0" width="12.4" height="20" fill="#706080"/>
<use href="#s" x="51.7" y="18.0" width="2.6" height="14" fill="#3c4a8a"/>
<use href="#p" x="267.1" y="14.0" width="11.8" height="19" fill="#5a4a88"/>
<use href="#p" x="743.4" y="19.0" width="11.1" height="18" fill="#4a3860"/>
<use href="#p" x="136.4" y="20.0" width="11.1" height="18" fill="#6a5290"/>
<use href="#p" x="422.7" y="21.0" width="10.5" height="17" fill="#6a4a78"/>
<use href="#p" x="633.8" y="18.0" width="12.4" height="20" fill="#7a6080"/>
<use href="#p" x="145.5" y="19.0" width="13.0" height="21" fill="#4a3a70"/>
<use href="#p" x="149.1" y="21.0" width="11.8" height="19" fill="#4a3a70"/>
<use href="#s" x="31.9" y="28.0" width="2.2" height="12" fill="#3c4a8a"/>
<use href="#s" x="105.3" y="22.0" width="3.4" height="18" fill="#3c4a8a"/>
<use href="#s" x="526.7" y="26.0" width="2.6" height="14" fill="#6a5090"/>
<use href="#p" x="609.7" y="23.0" width="10.5" height="17" fill="#7a6080"/>
<use href="#p" x="552.7" y="25.0" width="10.5" height="17" fill="#7a5090"/>
<use href="#p" x="618.4" y="24.0" width="11.1" height="18" fill="#7a6080"/>
<use href="#s" x="510.9" y="34.0" width="2.2" height="12" fill="#4a50a8"/>
<use href="#s" x="762.9" y="24.0" width="4.1" height="22" fill="#4a3440"/>
<use href="#s" x="50.9" y="36.0" width="2.2" height="12" fill="#8a5f92"/>
<use href="#p" x="570.7" y="32.0" width="10.5" height="17" fill="#7a5090"/>
<use href="#s" x="84.8" y="37.0" width="2.4" height="13" fill="#6a5a98"/>
<use href="#p" x="400.4" y="35.0" width="9.3" height="15" fill="#5a3f78"/>
<use href="#p" x="492.1" y="34.0" width="9.9" height="16" fill="#6a4a78"/>
<use href="#s" x="506.1" y="30.0" width="3.8" height="20" fill="#4a50a8"/>
<use href="#s" x="500.9" y="38.0" width="2.2" height="12" fill="#7a5a88"/>
<use href="#p" x="555.1" y="34.0" width="9.9" height="16" fill="#806088"/>
<use href="#s" x="697.7" y="36.0" width="2.6" height="14" fill="#807080"/>
<use href="#s" x="67.9" y="43.0" width="2.2" height="12" fill="#8a5f92"/>
<use href="#s" x="452.6" y="40.0" width="2.8" height="15" fill="#4a4a98"/>
<use href="#s" x="41.7" y="42.0" width="2.6" height="14" fill="#8a5f92"/>
<use href="#s" x="691.6" y="41.0" width="2.8" height="15" fill="#807080"/>
<use href="#s" x="474.6" y="42.0" width="2.8" height="15" fill="#4a50a0"/>
<use href="#s" x="52.7" y="44.0" width="2.6" height="14" fill="#8a5f92"/>
<use href="#p" x="590.1" y="41.0" width="11.8" height="19" fill="#7a5090"/>
<use href="#p" x="598.7" y="43.0" width="10.5" height="17" fill="#6a4a80"/>
<use href="#p" x="713.1" y="42.0" width="11.8" height="19" fill="#5a3f78"/>
<use href="#p" x="520.1" y="46.0" width="9.9" height="16" fill="#4a50a8"/>
<use href="#s" x="63.7" y="50.0" width="2.6" height="14" fill="#8a5f92"/>
<use href="#s" x="481.7" y="53.0" width="2.6" height="14" fill="#4a50a0"/>
<use href="#p" x="523.4" y="53.0" width="9.3" height="15" fill="#6a50a0"/>
<use href="#p" x="534.1" y="52.0" width="9.9" height="16" fill="#7a5a98"/>
<use href="#p" x="529.4" y="55.0" width="9.3" height="15" fill="#6a50a0"/>
<use href="#p" x="166.4" y="54.0" width="11.1" height="18" fill="#8c5a7c"/>
<use href="#s" x="182.9" y="60.0" width="2.2" height="12" fill="#7a5a88"/>
<use href="#p" x="626.1" y="53.0" width="11.8" height="19" fill="#6a4a80"/>
<use href="#s" x="69.7" y="60.0" width="2.6" height="14" fill="#8a5f92"/>
<use href="#p" x="511.1" y="60.0" width="9.9" height="16" fill="#7a5a98"/>
<use href="#p" x="515.4" y="61.0" width="9.3" height="15" fill="#7a5a98"/>
<use href="#s" x="55.8" y="65.0" width="2.4" height="13" fill="#8a5f92"/>
<use href="#s" x="362.5" y="62.0" width="3.0" height="16" fill="#3a4a98"/>
<use href="#p" x="757.1" y="59.0" width="11.8" height="19" fill="#3a3898"/>
<use href="#p" x="759.1" y="59.0" width="11.8" height="19" fill="#2a2870"/>
<use href="#p" x="175.1" y="61.0" width="11.8" height="19" fill="#8c5a7c"/>
<use href="#p" x="381.1" y="64.0" width="9.9" height="16" fill="#6a4a80"/>
<use href="#s" x="533.7" y="66.0" width="2.6" height="14" fill="#6a58a8"/>
<use href="#p" x="713.0" y="67.0" width="8.0" height="13" fill="#7a5098"/>
<use href="#p" x="130.1" y="62.0" width="11.8" height="19" fill="#80547c"/>
<use href="#p" x="202.6" y="60.0" width="14.8" height="24" fill="#7a4a60"/>
<use href="#p" x="391.1" y="65.0" width="11.8" height="19" fill="#5a3f78"/>
<use href="#p" x="103.1" y="66.0" width="11.8" height="19" fill="#93608a"/>
<use href="#s" x="93.3" y="67.0" width="3.4" height="18" fill="#93608a"/>
<use href="#p" x="387.4" y="70.0" width="11.1" height="18" fill="#5a3f78"/>
<use href="#s" x="666.7" y="74.0" width="2.6" height="14" fill="#807080"/>
<use href="#s" x="661.9" y="78.0" width="2.2" height="12" fill="#807080"/>
<use href="#s" x="408.1" y="82.0" width="1.9" height="10" fill="#4a3a70"/>
<use href="#s" x="13.8" y="82.0" width="2.4" height="13" fill="#2f4a8a"/>
<use href="#s" x="144.4" y="79.0" width="3.2" height="17" fill="#3a3468"/>
<use href="#s" x="680.7" y="82.0" width="2.6" height="14" fill="#807080"/>
<use href="#p" x="695.1" y="80.0" width="9.9" height="16" fill="#5a4a70"/>
<use href="#p" x="363.7" y="80.0" width="10.5" height="17" fill="#5a4a80"/>
<use href="#s" x="669.8" y="84.0" width="2.4" height="13" fill="#807080"/>
<use href="#p" x="685.1" y="82.0" width="9.9" height="16" fill="#5a4a70"/>
<use href="#s" x="40.8" y="87.0" width="2.4" height="13" fill="#2f4a8a"/>
<use href="#p" x="681.4" y="85.0" width="9.3" height="15" fill="#5a4a70"/>
<use href="#s" x="582.9" y="92.0" width="2.2" height="12" fill="#806088"/>
<use href="#s" x="657.9" y="92.0" width="2.2" height="12" fill="#807080"/>
<use href="#p" x="546.1" y="87.0" width="11.8" height="19" fill="#6a4a88"/>
<use href="#s" x="31.8" y="95.0" width="2.4" height="13" fill="#2f4a8a"/>
<use href="#p" x="426.1" y="89.0" width="11.8" height="19" fill="#4a3a70"/>
<use href="#p" x="540.1" y="89.0" width="11.8" height="19" fill="#6a4a88"/>
<use href="#p" x="642.1" y="89.0" width="11.8" height="19" fill="#705098"/>
<use href="#p" x="110.1" y="90.0" width="11.8" height="19" fill="#2c2f66"/>
<use href="#p" x="84.1" y="90.0" width="11.8" height="19" fill="#9a6088"/>
<use href="#s" x="67.3" y="92.0" width="3.4" height="18" fill="#93608a"/>
<use href="#p" x="420.2" y="90.0" width="13.6" height="22" fill="#4a3a70"/>
<use href="#p" x="551.4" y="94.0" width="11.1" height="18" fill="#7a5a98"/>
<use href="#p" x="576.4" y="98.0" width="11.1" height="18" fill="#806088"/>
<use href="#p" x="343.4" y="99.0" width="11.1" height="18" fill="#5a4a80"/>
<use href="#p" x="603.8" y="98.0" width="12.4" height="20" fill="#5a3f88"/>
<use href="#p" x="447.1" y="103.0" width="11.8" height="19" fill="#a08478"/>
<use href="#p" x="625.1" y="103.0" width="11.8" height="19" fill="#705090"/>
<use href="#p" x="557.1" y="105.0" width="11.8" height="19" fill="#5a3f80"/>
<use href="#p" x="639.1" y="105.0" width="11.8" height="19" fill="#604880"/>
<use href="#p" x="358.7" y="108.0" width="10.5" height="17" fill="#5a4a80"/>
<use href="#p" x="563.1" y="107.0" width="11.8" height="19" fill="#5a3f80"/>
<use href="#p" x="675.1" y="108.0" width="11.8" height="19" fill="#5a3f98"/>
<use href="#p" x="371.7" y="111.0" width="10.5" height="17" fill="#5a4a80"/>
<use href="#s" x="445.9" y="116.0" width="2.2" height="12" fill="#5a58a0"/>
<use href="#p" x="721.1" y="110.0" width="11.8" height="19" fill="#3a2450"/>
<use href="#p" x="685.1" y="111.0" width="11.8" height="19" fill="#6a4a98"/>
<use href="#s" x="441.7" y="118.0" width="2.6" height="14" fill="#5a58a0"/>
<use href="#s" x="419.1" y="122.0" width="1.9" height="10" fill="#807098"/>
<use href="#s" x="601.5" y="116.0" width="3.0" height="16" fill="#5a58a8"/>
<use href="#p" x="630.1" y="116.0" width="11.8" height="19" fill="#3a2a60"/>
<use href="#s" x="435.5" y="120.0" width="3.0" height="16" fill="#5a58a0"/>
<use href="#p" x="90.4" y="119.0" width="11.1" height="18" fill="#27254f"/>
<use href="#p" x="22.9" y="114.0" width="14.2" height="23" fill="#2a2550"/>
<use href="#p" x="341.4" y="119.0" width="11.1" height="18" fill="#5a4a80"/>
<use href="#p" x="374.7" y="126.0" width="10.5" height="17" fill="#5a4a80"/>
<use href="#p" x="611.1" y="125.0" width="11.8" height="19" fill="#4a3470"/>
<use href="#s" x="39.1" y="127.0" width="3.8" height="20" fill="#231f48"/>
<use href="#s" x="313.7" y="134.0" width="2.6" height="14" fill="#5a6098"/>
<use href="#s" x="466.9" y="136.0" width="2.2" height="12" fill="#807098"/>
<use href="#p" x="697.5" y="142.0" width="4.9" height="8" fill="#3a2450"/>
<use href="#p" x="384.7" y="135.0" width="10.5" height="17" fill="#6a4a78"/>
<use href="#s" x="409.2" y="147.0" width="1.5" height="8" fill="#807098"/>
<use href="#p" x="691.2" y="137.0" width="13.6" height="22" fill="#2a2a78"/>
<use href="#p" x="451.7" y="146.0" width="8.7" height="14" fill="#6a58a8"/>
<use href="#s" x="511.1" y="150.0" width="1.9" height="10" fill="#5a60a8"/>
<use href="#p" x="611.4" y="142.0" width="11.1" height="18" fill="#4a3470"/>
</g>
<rect x="0" y="160" width="800" height="55" fill="#5f88b4"/>
<g>
<rect x="135.7" y="172.3" width="51" height="30.8" fill="#ffffff" stroke="#20242c" stroke-width="1"/>
<path d="M138.8 189.2 L148.8 175.2 L154 178.4 L143.6 187.2 L147.6 194.4 L146.4 194.9Z" fill="#000"/>
<path d="M144.6 186.8 L158 176 L161.2 180 L149.3 185.2 L151.7 194.4 L150.5 194.9Z" fill="#000"/>
<path d="M149.8 185.3 L165.2 178.8 L168 184.1 L155.7 184.6 L155.7 194.5 L153.3 194.9Z" fill="#000"/>
<path d="M156.8 185.3 H174.8 V181.6 L184 190.4 L175.6 198.8 V195.2 H156.8Z" fill="#000" stroke="#666" stroke-width="0.3"/>
<text x="147.2" y="199.7" font-size="2.9" font-weight="700" textLength="26.4" lengthAdjust="spacingAndGlyphs" fill="#111">URZĄD PRACY</text>
</g>

<text x="200.5" y="186.5" font-size="17.5" font-weight="700" textLength="459.0" lengthAdjust="spacingAndGlyphs" fill="#fff" filter="url(#tsh)" stroke="#fff" stroke-width="0.45">CUDZOZIEMCY NA RADOMSKIM RYNKU PRACY</text>
<text x="200.5" y="200.6" font-size="15" textLength="189.0" lengthAdjust="spacingAndGlyphs" fill="#fff" filter="url(#tsh)">podsumowanie 2025 roku</text>
<circle cx="282" cy="248.5" r="6" fill="#6089b5"/>
<text x="294.5" y="253.0" font-size="13.5" textLength="259.0" lengthAdjust="spacingAndGlyphs" fill="#222">Obywatele Ukrainy zarejestrowani w PUP</text>
<line x1="58" x2="776" y1="338.00" y2="338.00" stroke="#e6e7ea" stroke-width="1"/>
<text x="48.0" y="342.6" font-size="13" text-anchor="end" fill="#222">0</text>
<line x1="58" x2="776" y1="325.00" y2="325.00" stroke="#e6e7ea" stroke-width="1"/>
<text x="48.0" y="329.6" font-size="13" text-anchor="end" fill="#222">20</text>
<line x1="58" x2="776" y1="312.00" y2="312.00" stroke="#e6e7ea" stroke-width="1"/>
<text x="48.0" y="316.6" font-size="13" text-anchor="end" fill="#222">40</text>
<line x1="58" x2="776" y1="299.00" y2="299.00" stroke="#e6e7ea" stroke-width="1"/>
<text x="48.0" y="303.6" font-size="13" text-anchor="end" fill="#222">60</text>
<line x1="58" x2="776" y1="286.00" y2="286.00" stroke="#e6e7ea" stroke-width="1"/>
<text x="48.0" y="290.6" font-size="13" text-anchor="end" fill="#222">80</text>
<line x1="58" x2="776" y1="273.00" y2="273.00" stroke="#e6e7ea" stroke-width="1"/>
<text x="48.0" y="277.6" font-size="13" text-anchor="end" fill="#222">100</text>
<path d="M58.00 338 V283.45 Q58.00 281.45 60.00 281.45 H88.70 Q90.70 281.45 90.70 283.45 V338 Z" fill="#6089b5"/>
<text x="74.3" y="295.4" font-size="13.5" text-anchor="middle" fill="#fff">87</text>
<text x="81.8" y="354" font-size="14" text-anchor="end" fill="#222" transform="rotate(-45 81.8 354)">styczeń</text>
<path d="M120.30 338 V279.55 Q120.30 277.55 122.30 277.55 H151.00 Q153.00 277.55 153.00 279.55 V338 Z" fill="#6089b5"/>
<text x="136.7" y="291.6" font-size="13.5" text-anchor="middle" fill="#fff">93</text>
<text x="144.2" y="354" font-size="14" text-anchor="end" fill="#222" transform="rotate(-45 144.2 354)">luty</text>
<path d="M182.60 338 V280.20 Q182.60 278.20 184.60 278.20 H213.30 Q215.30 278.20 215.30 280.20 V338 Z" fill="#6089b5"/>
<text x="198.9" y="292.2" font-size="13.5" text-anchor="middle" fill="#fff">92</text>
<text x="206.4" y="354" font-size="14" text-anchor="end" fill="#222" transform="rotate(-45 206.4 354)">marzec</text>
<path d="M244.90 338 V282.15 Q244.90 280.15 246.90 280.15 H275.60 Q277.60 280.15 277.60 282.15 V338 Z" fill="#6089b5"/>
<text x="261.2" y="294.1" font-size="13.5" text-anchor="middle" fill="#fff">89</text>
<text x="268.8" y="354" font-size="14" text-anchor="end" fill="#222" transform="rotate(-45 268.8 354)">kwiecień</text>
<path d="M307.20 338 V287.35 Q307.20 285.35 309.20 285.35 H337.90 Q339.90 285.35 339.90 287.35 V338 Z" fill="#6089b5"/>
<text x="323.6" y="299.4" font-size="13.5" text-anchor="middle" fill="#fff">81</text>
<text x="331.1" y="354" font-size="14" text-anchor="end" fill="#222" transform="rotate(-45 331.1 354)">maj</text>
<path d="M369.50 338 V288.00 Q369.50 286.00 371.50 286.00 H400.20 Q402.20 286.00 402.20 288.00 V338 Z" fill="#6089b5"/>
<text x="385.9" y="300.0" font-size="13.5" text-anchor="middle" fill="#fff">80</text>
<text x="393.4" y="354" font-size="14" text-anchor="end" fill="#222" transform="rotate(-45 393.4 354)">czerwiec</text>
<path d="M431.80 338 V282.80 Q431.80 280.80 433.80 280.80 H462.50 Q464.50 280.80 464.50 282.80 V338 Z" fill="#6089b5"/>
<text x="448.1" y="294.8" font-size="13.5" text-anchor="middle" fill="#fff">88</text>
<text x="455.6" y="354" font-size="14" text-anchor="end" fill="#222" transform="rotate(-45 455.6 354)">lipiec</text>
<path d="M494.10 338 V282.80 Q494.10 280.80 496.10 280.80 H524.80 Q526.80 280.80 526.80 282.80 V338 Z" fill="#6089b5"/>
<text x="510.4" y="294.8" font-size="13.5" text-anchor="middle" fill="#fff">88</text>
<text x="518.0" y="354" font-size="14" text-anchor="end" fill="#222" transform="rotate(-45 518.0 354)">sierpień</text>
<path d="M556.40 338 V278.25 Q556.40 276.25 558.40 276.25 H587.10 Q589.10 276.25 589.10 278.25 V338 Z" fill="#6089b5"/>
<text x="572.8" y="290.2" font-size="13.5" text-anchor="middle" fill="#fff">95</text>
<text x="580.2" y="354" font-size="14" text-anchor="end" fill="#222" transform="rotate(-45 580.2 354)">wrzesień</text>
<path d="M618.70 338 V284.10 Q618.70 282.10 620.70 282.10 H649.40 Q651.40 282.10 651.40 284.10 V338 Z" fill="#6089b5"/>
<text x="635.0" y="296.1" font-size="13.5" text-anchor="middle" fill="#fff">86</text>
<text x="642.5" y="354" font-size="14" text-anchor="end" fill="#222" transform="rotate(-45 642.5 354)">październik</text>
<path d="M681.00 338 V289.95 Q681.00 287.95 683.00 287.95 H711.70 Q713.70 287.95 713.70 289.95 V338 Z" fill="#6089b5"/>
<text x="697.4" y="301.9" font-size="13.5" text-anchor="middle" fill="#fff">77</text>
<text x="704.9" y="354" font-size="14" text-anchor="end" fill="#222" transform="rotate(-45 704.9 354)">listopad</text>
<path d="M743.30 338 V289.95 Q743.30 287.95 745.30 287.95 H774.00 Q776.00 287.95 776.00 289.95 V338 Z" fill="#6089b5"/>
<text x="759.6" y="301.9" font-size="13.5" text-anchor="middle" fill="#fff">77</text>
<text x="767.1" y="354" font-size="14" text-anchor="end" fill="#222" transform="rotate(-45 767.1 354)">grudzień</text>
<path d="M0 431.5 H800 M442.5 431.5 V1131 M0 759.5 H442.5 M0 854 H442.5 M0 1043.5 H442.5 M442.5 691 H800" stroke="#5c9cc3" stroke-width="1.15" stroke-dasharray="4.1 0.9" fill="none"/>
<circle cx="240" cy="626" r="48.5" fill="#f8f9fb"/>
<path d="M240.00 529.50 A96.5 96.5 0 1 1 208.05 717.06 L223.94 671.76 A48.5 48.5 0 1 0 240.00 577.50 Z" fill="#6089b5"/>
<path d="M208.05 717.06 A96.5 96.5 0 0 1 240.00 529.50 L240.00 577.50 A48.5 48.5 0 0 0 223.94 671.76 Z" fill="#c9b9b9"/>
<text x="58.5" y="481.0" font-size="13.5" font-weight="700" textLength="332.0" lengthAdjust="spacingAndGlyphs" fill="#151515">Oświadczenia o powierzeniu wykonywania pracy</text>
<text x="76.5" y="494.6" font-size="13.5" font-weight="700" textLength="102.5" lengthAdjust="spacingAndGlyphs" fill="#151515">cudzoziemcom</text>
<text x="182.0" y="494.6" font-size="13.5" textLength="189.3" lengthAdjust="spacingAndGlyphs" fill="#151515">w podziale na miejsce pracy</text>
<text x="26.2" y="596.0" font-size="13.5" textLength="112.1" lengthAdjust="spacingAndGlyphs" fill="#111" stroke="#111" stroke-width="0.3">Powiat radomski</text>
<text x="70.6" y="611.0" font-size="13.5" textLength="24.7" lengthAdjust="spacingAndGlyphs" fill="#111" stroke="#111" stroke-width="0.3">1101</text>
<text x="342.3" y="645.8" font-size="13" textLength="64.0" lengthAdjust="spacingAndGlyphs" fill="#111" stroke="#111" stroke-width="0.3">M.Radom</text>
<text x="360.3" y="660.5" font-size="13" textLength="28.4" lengthAdjust="spacingAndGlyphs" fill="#111" stroke="#111" stroke-width="0.3">1366</text>
<text x="590.3" y="471.9" font-size="23" font-weight="700" textLength="58.2" lengthAdjust="spacingAndGlyphs" fill="#000">2467</text>
<text x="462.9" y="489.9" font-size="13.5" textLength="312.9" lengthAdjust="spacingAndGlyphs" fill="#222">Oświadczenia o powierzeniu pracy cudzoziemcom</text>
<line x1="620.7" x2="620.7" y1="530" y2="672" stroke="#ebecef" stroke-width="1"/>
<line x1="695.6" x2="695.6" y1="530" y2="672" stroke="#ebecef" stroke-width="1"/>
<path d="M545.75 530.5 H730.50 Q732.50 530.5 732.50 532.5 V554.5 Q732.50 556.5 730.50 556.5 H545.75 Z" fill="#6089b5"/>
<text x="476.1" y="549.9" font-size="12.5" textLength="59.7" lengthAdjust="spacingAndGlyphs" fill="#1a1a1a" stroke="#1a1a1a" stroke-width="0.2">BIAŁORUŚ</text>
<text x="738.5" y="549.9" font-size="12.5" textLength="28.0" lengthAdjust="spacingAndGlyphs" fill="#1a1a1a" stroke="#1a1a1a" stroke-width="0.2">1246</text>
<path d="M545.75 559.0 H672.80 Q674.80 559.0 674.80 561.0 V583.0 Q674.80 585.0 672.80 585.0 H545.75 Z" fill="#6089b5"/>
<text x="482.1" y="577.9" font-size="12.5" textLength="53.7" lengthAdjust="spacingAndGlyphs" fill="#1a1a1a" stroke="#1a1a1a" stroke-width="0.2">UKRAINA</text>
<text x="680.8" y="577.9" font-size="12.5" textLength="21.0" lengthAdjust="spacingAndGlyphs" fill="#1a1a1a" stroke="#1a1a1a" stroke-width="0.2">861</text>
<path d="M545.75 587.5 H575.52 Q577.52 587.5 577.52 589.5 V611.5 Q577.52 613.5 575.52 613.5 H545.75 Z" fill="#6089b5"/>
<text x="486.8" y="606.0" font-size="12.5" textLength="49.0" lengthAdjust="spacingAndGlyphs" fill="#1a1a1a" stroke="#1a1a1a" stroke-width="0.2">GRUZJA</text>
<text x="583.5" y="606.0" font-size="12.5" textLength="19.8" lengthAdjust="spacingAndGlyphs" fill="#1a1a1a" stroke="#1a1a1a" stroke-width="0.2">212</text>
<path d="M545.75 616.0 H563.53 Q565.53 616.0 565.53 618.0 V640.0 Q565.53 642.0 563.53 642.0 H545.75 Z" fill="#6089b5"/>
<text x="466.8" y="634.0" font-size="12.5" textLength="69.0" lengthAdjust="spacingAndGlyphs" fill="#1a1a1a" stroke="#1a1a1a" stroke-width="0.2">MOŁDAWIA</text>
<text x="571.5" y="634.0" font-size="12.5" textLength="19.8" lengthAdjust="spacingAndGlyphs" fill="#1a1a1a" stroke="#1a1a1a" stroke-width="0.2">132</text>
<path d="M545.75 644.5 H546.95 Q548.15 644.5 548.15 645.6990369181381 V669.3009630818619 Q548.15 670.5 546.95 670.5 H545.75 Z" fill="#6089b5"/>
<text x="480.8" y="662.1" font-size="12.5" textLength="55.0" lengthAdjust="spacingAndGlyphs" fill="#1a1a1a" stroke="#1a1a1a" stroke-width="0.2">ARMENIA</text>
<text x="554.1" y="662.1" font-size="12.5" textLength="11.9" lengthAdjust="spacingAndGlyphs" fill="#1a1a1a" stroke="#1a1a1a" stroke-width="0.2">16</text>
<text x="476.5" y="724.3" font-size="14" textLength="120.0" lengthAdjust="spacingAndGlyphs" fill="#111">Zawody w których</text>
<text x="599.5" y="724.3" font-size="14" font-weight="700" textLength="170.6" lengthAdjust="spacingAndGlyphs" fill="#111">pracodawcy deklarowali</text>
<text x="511.5" y="735.6" font-size="14" textLength="223.8" lengthAdjust="spacingAndGlyphs" fill="#111">chęć zatrudnienia cudzoziemców</text>
<line x1="503" x2="776" y1="1027.00" y2="1027.00" stroke="#eeeef1" stroke-width="1"/>
<text x="495.0" y="1031.0" font-size="11" text-anchor="end" fill="#222">0</text>
<line x1="503" x2="776" y1="985.70" y2="985.70" stroke="#eeeef1" stroke-width="1"/>
<text x="495.0" y="989.7" font-size="11" text-anchor="end" fill="#222">500</text>
<line x1="503" x2="776" y1="944.40" y2="944.40" stroke="#eeeef1" stroke-width="1"/>
<text x="495.0" y="948.4" font-size="11" text-anchor="end" fill="#222">1000</text>
<line x1="503" x2="776" y1="903.10" y2="903.10" stroke="#eeeef1" stroke-width="1"/>
<text x="495.0" y="907.1" font-size="11" text-anchor="end" fill="#222">1500</text>
<line x1="503" x2="776" y1="861.80" y2="861.80" stroke="#eeeef1" stroke-width="1"/>
<text x="495.0" y="865.8" font-size="11" text-anchor="end" fill="#222">2000</text>
<line x1="503" x2="776" y1="820.50" y2="820.50" stroke="#eeeef1" stroke-width="1"/>
<text x="495.0" y="824.5" font-size="11" text-anchor="end" fill="#222">2500</text>
<line x1="503" x2="776" y1="779.20" y2="779.20" stroke="#eeeef1" stroke-width="1"/>
<text x="495.0" y="783.2" font-size="11" text-anchor="end" fill="#222">3000</text>
<path d="M503.00 1027 V761.95 Q503.00 759.95 505.00 759.95 H536.20 Q538.20 759.95 538.20 761.95 V1027 Z" fill="#6089b5"/>
<text x="520.6" y="770.6" font-size="10.5" text-anchor="middle" textLength="24.6" lengthAdjust="spacingAndGlyphs" fill="#fff">3233</text>
<text x="526.6" y="1038" font-size="10.4" text-anchor="end" fill="#222" transform="rotate(-45 526.6 1038)">Prace dorywcze</text>
<path d="M542.60 1027 V885.85 Q542.60 883.85 544.60 883.85 H575.80 Q577.80 883.85 577.80 885.85 V1027 Z" fill="#6089b5"/>
<text x="560.2" y="894.5" font-size="10.5" text-anchor="middle" textLength="24.6" lengthAdjust="spacingAndGlyphs" fill="#fff">1733</text>
<text x="566.2" y="1038" font-size="10.4" text-anchor="end" fill="#222" transform="rotate(-45 566.2 1038)">Sprzątaczki</text>
<path d="M582.20 1027 V952.02 Q582.20 950.02 584.20 950.02 H615.40 Q617.40 950.02 617.40 952.02 V1027 Z" fill="#6089b5"/>
<text x="599.8" y="960.6" font-size="10.5" text-anchor="middle" textLength="18.5" lengthAdjust="spacingAndGlyphs" fill="#fff">932</text>
<text x="605.8" y="1038" font-size="10.4" text-anchor="end" fill="#222" transform="rotate(-45 605.8 1038)">Kierowcy</text>
<path d="M621.80 1027 V911.87 Q621.80 909.87 623.80 909.87 H655.00 Q657.00 909.87 657.00 911.87 V1027 Z" fill="#6089b5"/>
<text x="639.4" y="920.5" font-size="10.5" text-anchor="middle" textLength="24.6" lengthAdjust="spacingAndGlyphs" fill="#fff">1418</text>
<text x="645.4" y="1038" font-size="10.4" text-anchor="end" fill="#222" transform="rotate(-45 645.4 1038)">Prace proste</text>
<path d="M661.40 1027 V999.18 Q661.40 997.18 663.40 997.18 H694.60 Q696.60 997.18 696.60 999.18 V1027 Z" fill="#6089b5"/>
<text x="679.0" y="1007.8" font-size="10.5" text-anchor="middle" textLength="18.5" lengthAdjust="spacingAndGlyphs" fill="#fff">361</text>
<text x="685.0" y="1038" font-size="10.4" text-anchor="end" fill="#222" transform="rotate(-45 685.0 1038)">Robotnicy magazynowi</text>
<path d="M701.00 1027 V1014.79 Q701.00 1012.79 703.00 1012.79 H734.20 Q736.20 1012.79 736.20 1014.79 V1027 Z" fill="#6089b5"/>
<text x="718.6" y="1023.4" font-size="10.5" text-anchor="middle" textLength="18.5" lengthAdjust="spacingAndGlyphs" fill="#fff">172</text>
<text x="724.6" y="1038" font-size="10.4" text-anchor="end" fill="#222" transform="rotate(-45 724.6 1038)">Robotnik budowlany</text>
<path d="M740.60 1027 V993.73 Q740.60 991.73 742.60 991.73 H773.80 Q775.80 991.73 775.80 993.73 V1027 Z" fill="#6089b5"/>
<text x="758.2" y="1002.3" font-size="10.5" text-anchor="middle" textLength="18.5" lengthAdjust="spacingAndGlyphs" fill="#fff">427</text>
<text x="764.2" y="1038" font-size="10.4" text-anchor="end" fill="#222" transform="rotate(-45 764.2 1038)">Pracownicy produkcji</text>
<text x="30.5" y="810.2" font-size="13.5" textLength="173.2" lengthAdjust="spacingAndGlyphs" fill="#111">liczba wizyt osób z Ukrainy</text>
<text x="47.8" y="822.5" font-size="13.5" textLength="138.6" lengthAdjust="spacingAndGlyphs" fill="#111">u pośredników pracy</text>
<rect x="228.8" y="795" width="194" height="35" rx="17.5" fill="#bda5a7"/>
<rect x="228.8" y="795" width="165" height="35" rx="17.5" fill="#6089b5"/>
<text x="291.0" y="820.7" font-size="23" font-weight="700" textLength="44.5" lengthAdjust="spacingAndGlyphs" fill="#fff">894</text>
<text x="178.1" y="882.4" font-size="14" font-weight="700" textLength="83.1" lengthAdjust="spacingAndGlyphs" fill="#000">Zezwolenia</text>
<text x="150.8" y="895.6" font-size="14" textLength="140.4" lengthAdjust="spacingAndGlyphs" fill="#111">na pracę sezonową</text>
<path d="M33.80 972.70 A46 46 0 0 1 106.84 935.49 L98.02 947.62 A31 31 0 0 0 48.80 972.70 Z" fill="#bda5a7"/>
<path d="M106.84 935.49 A46 46 0 0 1 125.80 972.70 L110.80 972.70 A31 31 0 0 0 98.02 947.62 Z" fill="#6089b5"/>
<path d="M170.70 973.60 A46 46 0 0 1 237.58 932.61 L230.77 945.98 A31 31 0 0 0 185.70 973.60 Z" fill="#bda5a7"/>
<path d="M237.58 932.61 A46 46 0 0 1 262.70 973.60 L247.70 973.60 A31 31 0 0 0 230.77 945.98 Z" fill="#6089b5"/>
<path d="M311.00 969.50 A46 46 0 0 1 326.58 934.99 L336.50 946.25 A31 31 0 0 0 326.00 969.50 Z" fill="#bda5a7"/>
<path d="M326.58 934.99 A46 46 0 0 1 403.00 969.50 L388.00 969.50 A31 31 0 0 0 336.50 946.25 Z" fill="#6089b5"/>
<text x="69.0" y="965.8" font-size="17" font-weight="700" textLength="21.6" lengthAdjust="spacingAndGlyphs" fill="#000">70</text>
<text x="205.1" y="970.0" font-size="17" font-weight="700" textLength="23.4" lengthAdjust="spacingAndGlyphs" fill="#000">65</text>
<text x="347.5" y="966.7" font-size="17" font-weight="700" textLength="20.6" lengthAdjust="spacingAndGlyphs" fill="#000">27</text>
<text x="39.3" y="997.2" font-size="10.5" textLength="81.6" lengthAdjust="spacingAndGlyphs" fill="#222">liczba złożonych</text>
<text x="55.3" y="1010.4" font-size="10.5" textLength="49.1" lengthAdjust="spacingAndGlyphs" fill="#222">wniosków</text>
<text x="166.5" y="999.4" font-size="10.5" textLength="97.7" lengthAdjust="spacingAndGlyphs" fill="#222">liczba zaświadczeń</text>
<text x="187.8" y="1011.8" font-size="10.5" textLength="57.6" lengthAdjust="spacingAndGlyphs" fill="#222">o wpisie do</text>
<text x="192.7" y="1023.9" font-size="10.5" textLength="47.8" lengthAdjust="spacingAndGlyphs" fill="#222">ewidencji</text>
<text x="325.8" y="996.7" font-size="10.5" textLength="64.0" lengthAdjust="spacingAndGlyphs" fill="#222">liczba decyzji</text>
<text x="65.3" y="1082.0" font-size="13" font-weight="700" textLength="101.5" lengthAdjust="spacingAndGlyphs" fill="#000">Powiadomienia</text>
<text x="60.8" y="1093.8" font-size="13" font-weight="700" textLength="108.5" lengthAdjust="spacingAndGlyphs" fill="#000">o podjęciu pracy</text>
<text x="49.5" y="1105.5" font-size="13" textLength="134.0" lengthAdjust="spacingAndGlyphs" fill="#111">dla obywateli Ukrainy</text>
<rect x="210" y="1072.4" width="194" height="35.7" rx="17.8" fill="#6089b5"/>
<rect x="210" y="1072.4" width="165" height="35.7" rx="17.8" fill="#bda5a7"/>
<text x="266.1" y="1097.9" font-size="24" font-weight="700" textLength="60.4" lengthAdjust="spacingAndGlyphs" fill="#fff">8 731</text>
</svg>
</body></html>
